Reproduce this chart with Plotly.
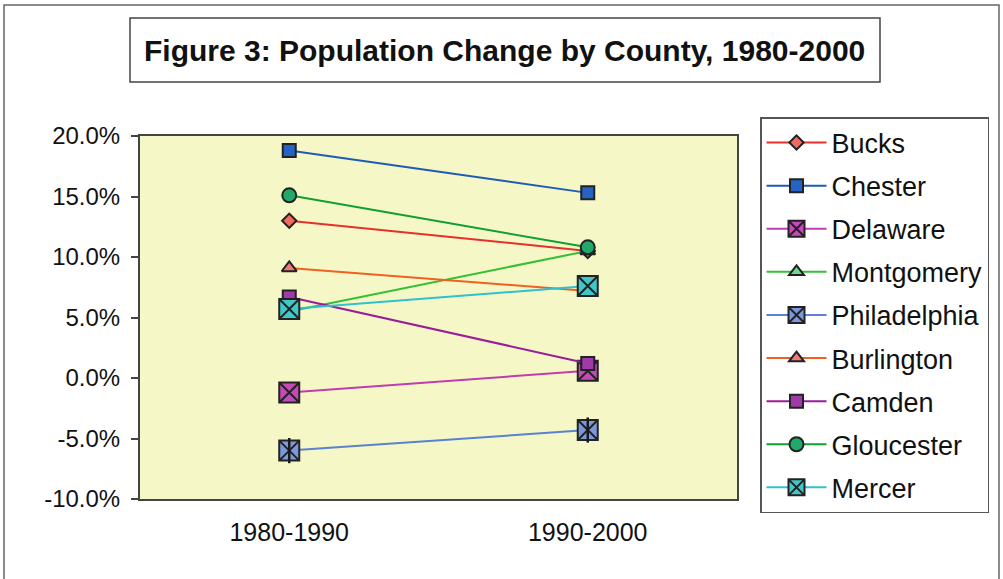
import plotly.graph_objects as go

periods = ["1980-1990", "1990-2000"]
counties = ["Bucks", "Chester", "Delaware", "Montgomery", "Philadelphia",
            "Burlington", "Camden", "Gloucester", "Mercer"]
bucks = [13.0, 10.5]
chester = [18.8, 15.3]
delaware = [-1.2, 0.6]
montgomery = [5.5, 10.5]
philadelphia = [-6.0, -4.3]
burlington = [9.1, 7.2]
camden = [6.7, 1.2]
gloucester = [15.1, 10.8]
mercer = [5.7, 7.6]
y_ticks = [-10, -5, 0, 5, 10, 15, 20]

values = [bucks, chester, delaware, montgomery, philadelphia,
          burlington, camden, gloucester, mercer]

styles = {
    "Bucks": dict(line="#E8302A", fill="#F06A60", symbol="diamond", size=11, over=None),
    "Chester": dict(line="#1F5BB5", fill="#2563C4", symbol="square", size=13, over=None),
    "Delaware": dict(line="#C03CB0", fill="#C44AB8", symbol="square-x", size=20, over=None),
    "Montgomery": dict(line="#34C034", fill="#6CD890", symbol="triangle-up", size=13, over=None),
    "Philadelphia": dict(line="#5A82D0", fill="#7C98DC", symbol="square-x", size=20, over="line-ns-open"),
    "Burlington": dict(line="#F06020", fill="#F07878", symbol="triangle-up", size=13, over=None),
    "Camden": dict(line="#9A1C9A", fill="#A03AA8", symbol="square", size=13, over=None),
    "Gloucester": dict(line="#10A030", fill="#22A868", symbol="circle", size=14, over=None),
    "Mercer": dict(line="#30C0D0", fill="#40C8C8", symbol="square-x", size=20, over=None),
}

fig = go.Figure()
for name, vals in zip(counties, values):
    s = styles[name]
    fig.add_trace(go.Scatter(
        x=periods, y=vals, name=name, mode="lines+markers",
        legendgroup=name,
        line=dict(color=s["line"], width=2),
        marker=dict(symbol=s["symbol"], size=s["size"], color=s["fill"],
                    line=dict(color="#222222", width=2)),
    ))
    if s["over"]:
        fig.add_trace(go.Scatter(
            x=periods, y=vals, name=name, mode="markers", legendgroup=name,
            showlegend=False, hoverinfo="skip",
            marker=dict(symbol=s["over"], size=s["size"] - 2,
                        color="#1a1a1a", line=dict(color="#1a1a1a", width=2.5)),
        ))

L, R, T, B = 140, 737, 136, 499
W, H = 1003, 579
pw, ph = R - L, B - T


def px(x):
    return (x - L) / pw


def py(y):
    return (B - y) / ph


fig.update_layout(
    width=W, height=H,
    margin=dict(l=L, r=W - R, t=T, b=H - B, pad=0),
    paper_bgcolor="white",
    plot_bgcolor="#F5F8C6",
    font=dict(family="Liberation Sans, Arial, sans-serif", color="#111111"),
    showlegend=True,
    legend=dict(
        x=px(760), y=py(117), xanchor="left", yanchor="top",
        bordercolor="#555555", borderwidth=1.5, bgcolor="white",
        font=dict(size=27, color="#111111"),
        traceorder="grouped", tracegroupgap=5,
        itemwidth=60, maxheight=460,
    ),
    xaxis=dict(
        type="category", range=[-0.5, 1.5],
        showline=True, linecolor="#444444", linewidth=2, mirror=True,
        ticks="", showgrid=False, zeroline=False,
        tickfont=dict(size=25), ticklabelstandoff=10,
    ),
    yaxis=dict(
        range=[-10, 20], tickvals=y_ticks,
        ticktext=[f"{v:.1f}%" for v in y_ticks],
        showline=True, linecolor="#444444", linewidth=2, mirror=True,
        ticks="outside", ticklen=7, tickwidth=1.5, tickcolor="#444444",
        showgrid=False, zeroline=False,
        tickfont=dict(size=24), ticklabelstandoff=6,
    ),
    shapes=[
        dict(type="rect", xref="paper", yref="paper",
             x0=px(4), x1=px(999), y0=py(590), y1=py(5),
             line=dict(color="#666666", width=1.5)),
        dict(type="rect", xref="paper", yref="paper",
             x0=px(130), x1=px(880), y0=py(82), y1=py(18),
             line=dict(color="#444444", width=1.5)),
    ],
    annotations=[
        dict(text="<b>Figure 3: Population Change by County, 1980-2000</b>",
             xref="paper", yref="paper", x=px(505), y=py(50),
             xanchor="center", yanchor="middle", showarrow=False,
             font=dict(size=30, color="#111111")),
    ],
)

fig.write_html("out.html", config={"displayModeBar": False},
               post_script="document.body.style.margin='0px';")
